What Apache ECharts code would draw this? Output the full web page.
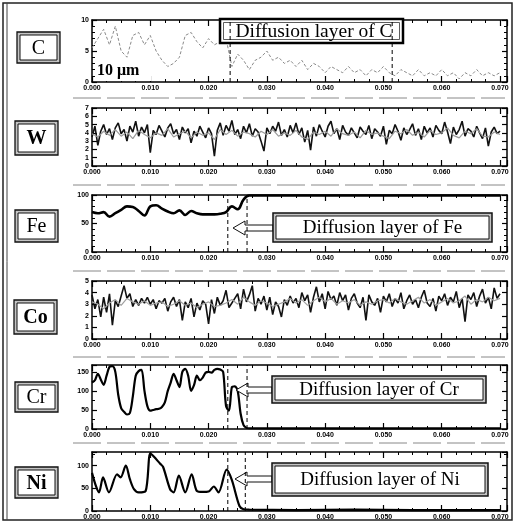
<!DOCTYPE html>
<html><head><meta charset="utf-8">
<script src="https://cdn.jsdelivr.net/npm/echarts@6/dist/echarts.min.js"></script>
<style>html,body{margin:0;padding:0;background:#fff}#c{width:515px;height:523px}</style>
</head><body><div id="c"></div>
<script>
// ---------- data ----------
const elementNames = ['C', 'W', 'Fe', 'Co', 'Cr', 'Ni'];
const layerTitles = ['Diffusion layer of C', 'Diffusion layer of Fe', 'Diffusion layer of Cr', 'Diffusion layer of Ni'];
const scaleText = '10 \u03bcm';
const xMax = 0.0712;
const xInterval = 0.01;
const yMaxes = [10, 7, 100, 5, 168, 130];
const yIntervals = [5, 1, 50, 1, 50, 50];
const stepC = 0.001, stepFine = 0.0005, stepCoarse = 0.001;

const cVals = [5.5,7,8.5,6,9,5,4,7.5,8,6, 7.5,5,3.5,2.5,3,4,7.5,8,6.5,5.5, 7,6,6.5,7,2.5,4.5,3.5,2,3.5,4,
  5,3.5,4,3,3.5,2.5,3.5,2,3,2.5, 1.5,2.5,2,1.5,2.5,1.5,2,1,2,1.5, 2.5,1.5,1,2,1.5,1,2,1,1.5,1,
  2,1,1.5,0.5,1.5,1,2,1,1.5,1, 1.5];

const wBlack = [3.5,4.8,2.5,4.2,5.0,3.8,4.5,3.2,4.6,5.2, 3.9,4.4,3.0,4.8,4.1,5.4,3.6,4.7,4.0,5.0,
  1.6,4.3,3.8,4.9,4.2,3.5,4.6,5.1,3.9,4.4, 3.2,4.7,4.0,4.5,2.8,4.2,3.6,4.8,4.1,3.4,
  4.6,3.9,1.2,4.3,5.2,3.7,4.9,4.2,5.5,3.8, 4.4,3.3,4.8,4.0,5.1,3.6,4.5,4.1,3.0,1.8,
  4.6,3.9,4.8,4.2,5.3,3.7,4.4,3.5,4.9,4.0, 5.2,3.8,4.6,2.9,4.3,1.9,4.7,3.6,5.0,4.2,
  3.5,4.8,5.4,3.9,4.5,3.2,4.9,4.1,3.7,4.6, 4.0,3.4,4.7,4.2,3.8,4.9,3.3,4.5,4.1,3.6,
  4.8,2.6,4.3,3.9,5.0,4.2,3.1,4.6,3.8,4.4, 5.1,3.7,4.5,3.2,4.8,4.0,4.6,3.5,4.9,4.3,
  3.9,5.3,4.1,2.7,4.7,3.8,4.4,5.4,3.6,4.5, 4.2,3.5,4.8,4.0,3.3,4.6,2.4,4.1,4.7,3.9, 4.2];
const wGray = [3.9,3.5,4.2,3.7,4.4,3.6,4.1,3.3,4.3,3.8, 3.4,4.0,3.7,4.5,3.5,3.9,4.2,3.4,4.1,3.7,
  4.0,3.2,4.4,3.8,4.3,3.6,4.1,3.9,3.5,4.2, 3.8,4.4,3.6,4.0,3.7,4.3,3.5,3.2,4.1,3.8,
  4.2,3.6,4.5,3.9,3.7,4.1,3.4,4.3,3.8,4.0, 3.6,3.3,4.2,3.9,4.4,3.7,4.1,3.5,4.3,3.8,
  4.0,4.6,3.7,3.4,4.2,3.9,4.5,3.6,3.5,4.1, 3.8];

const feProfile = [[0,70],[0.001,68],[0.002,70],[0.003,62],[0.004,68],[0.005,74],[0.006,80],[0.007,79],
  [0.008,72],[0.009,64],[0.010,80],[0.011,82],[0.012,76],[0.013,71],[0.014,68],[0.015,73],[0.016,65],
  [0.017,72],[0.018,68],[0.019,66],[0.020,66],[0.021,66],[0.022,67],[0.023,70],[0.024,80],[0.025,75],
  [0.026,92],[0.027,99],[0.070,99]];

const coBlack = [3.8,2.6,3.4,1.9,3.6,2.3,3.9,1.2,3.3,2.8, 3.7,4.6,3.5,3.9,2.8,3.4,2.9,3.5,3.1,3.6,
  3.0,3.4,2.6,3.3,3.1,3.5,2.4,3.2,3.6,2.8, 3.4,1.6,3.2,2.7,3.5,1.9,3.1,2.5,3.3,3.0,
  1.3,3.4,2.2,3.6,2.9,3.3,4.2,2.7,3.1,3.5, 3.9,2.6,4.3,3.2,3.8,4.6,2.4,3.5,3.0,3.7,
  2.5,3.6,2.1,3.2,2.8,1.9,3.4,2.9,3.7,3.1, 3.5,2.7,4.0,3.3,3.8,2.3,3.6,4.5,3.2,3.9,
  2.6,4.1,3.4,3.7,2.9,4.0,3.3,3.8,2.5,3.5, 3.9,3.1,2.7,3.6,1.6,3.8,3.2,2.9,3.5,2.3,
  3.7,3.2,3.9,2.8,3.5,3.1,4.0,2.6,3.3,3.8, 3.0,3.4,2.7,3.6,4.2,3.1,2.8,3.5,2.4,3.7,
  3.3,3.9,2.9,3.6,3.2,4.1,2.7,3.5,1.5,3.8, 3.4,4.0,2.8,3.7,4.3,3.1,3.6,2.6,4.4,3.5, 3.9];
const coGray = [3.2,3.0,2.6,3.1,3.4,2.9,3.5,3.2,3.0,3.3, 2.9,3.1,3.2,2.8,3.0,3.3,2.9,3.1,2.7,3.0,
  3.2,2.8,2.9,3.1,3.4,3.0,3.6,3.2,2.9,3.3, 3.1,2.8,3.0,3.2,3.5,3.1,3.4,2.9,3.3,3.6,
  3.2,3.5,3.0,3.3,3.1,3.4,2.9,3.2,3.0,3.3, 3.4,3.1,3.5,3.2,3.0,3.3,3.6,3.1,3.4,2.9,
  3.2,3.5,3.1,3.3,3.7,3.0,3.4,3.2,3.6,3.3, 3.5];

const crProfile = [[0,122],[0.0005,128],[0.001,145],[0.0015,130],[0.002,116],[0.0025,140],[0.003,163],
  [0.0035,165],[0.004,150],[0.0045,90],[0.005,55],[0.0055,45],[0.006,38],[0.0065,42],[0.007,85],
  [0.0075,140],[0.008,152],[0.0085,155],[0.009,100],[0.0095,60],[0.010,48],[0.0105,50],[0.011,52],
  [0.0115,53],[0.012,58],[0.0125,70],[0.013,100],[0.0135,122],[0.014,145],[0.0145,128],[0.015,110],
  [0.0155,150],[0.016,158],[0.0165,140],[0.017,100],[0.0175,115],[0.018,140],[0.0185,128],[0.019,135],
  [0.0195,148],[0.020,150],[0.0205,148],[0.021,155],[0.0215,158],[0.022,156],[0.0225,150],[0.023,60],
  [0.0235,48],[0.024,110],[0.0245,112],[0.025,100],[0.0255,40],[0.026,10],[0.0265,3],[0.027,2],
  [0.035,1.5],[0.045,2],[0.055,1.5],[0.070,2]];

const niProfile = [[0,84],[0.0007,54],[0.0012,41],[0.0019,74],[0.0029,41],[0.0043,81],[0.0049,74],
  [0.0058,100],[0.0065,70],[0.0072,48],[0.008,41],[0.0092,44],[0.0100,127],[0.0106,120],[0.0117,104],
  [0.0122,97],[0.0134,48],[0.014,41],[0.0149,78],[0.016,41],[0.0171,81],[0.018,44],[0.019,42],
  [0.020,43],[0.0209,54],[0.0217,41],[0.0231,91],[0.024,68],[0.0253,11],[0.026,4],[0.027,3],
  [0.035,2],[0.045,3],[0.055,2],[0.070,2]];

const layerLinesC = [0.0237, 0.0515];
const layerLinesFe = [0.0233, 0.0266];
const layerLinesCr = [0.0233, 0.0266];
const layerLinesNi = [0.0233, 0.0263];

// ---------- layout ----------
const gridLayout = [
  {top: 20, height: 62}, {top: 108, height: 58}, {top: 195, height: 57},
  {top: 281, height: 58}, {top: 365, height: 64}, {top: 452, height: 59}
];
const minorY = [5, 0, 5, 0, 2, 2];
const gridLeft = 92, gridWidth = 415;

const toPairs = (arr, step) => arr.map((v, i) => [+(i * step).toFixed(4), v]);

const grids = [], xAxes = [], yAxes = [], series = [];
const tickFont = {fontSize: 7, fontWeight: 'bold', fontFamily: 'Liberation Sans', color: '#000'};
gridLayout.forEach((g, i) => {
  grids.push({left: gridLeft, top: g.top, width: gridWidth, height: g.height, show: false, outerBoundsMode: 'none', containLabel: false});
  const xBase = {
    type: 'value', gridIndex: i, min: 0, max: xMax, interval: xInterval,
    axisLine: {show: true, onZero: false, lineStyle: {color: '#000', width: 1.5}},
    axisTick: {show: true, inside: true, length: 6, lineStyle: {color: '#000', width: 1.2}},
    minorTick: {show: true, splitNumber: 4, length: 3, lineStyle: {color: '#000', width: 1}},
    splitLine: {show: false}, minorSplitLine: {show: false}
  };
  xAxes.push(Object.assign({}, xBase, {position: 'bottom',
    axisLabel: Object.assign({show: true, margin: 3, formatter: v => (v > 0.0705 ? '' : v.toFixed(3))}, tickFont)}));
  xAxes.push(Object.assign({}, xBase, {position: 'top', axisLabel: {show: false}}));
  const yMax = yMaxes[i], yInt = yIntervals[i];
  const yBase = {
    type: 'value', gridIndex: i, min: 0, max: yMax, interval: yInt,
    axisLine: {show: true, onZero: false, lineStyle: {color: '#000', width: 1.5}},
    axisTick: {show: true, inside: true, length: 5, lineStyle: {color: '#000', width: 1.2}},
    minorTick: {show: minorY[i] > 0, splitNumber: minorY[i] || 2, length: 3, lineStyle: {color: '#000', width: 1}},
    splitLine: {show: false}, minorSplitLine: {show: false}
  };
  yAxes.push(Object.assign({}, yBase, {position: 'left',
    axisLabel: Object.assign({show: true, margin: 3,
      formatter: v => (Math.abs(v / yInt - Math.round(v / yInt)) < 1e-6 ? String(v) : '')}, tickFont)}));
  yAxes.push(Object.assign({}, yBase, {position: 'right', axisLabel: {show: false}}));
});

function addLine(gi, data, style, extra) {
  series.push(Object.assign({type: 'line', xAxisIndex: 2 * gi, yAxisIndex: 2 * gi, data: data,
    showSymbol: false, symbol: 'none', lineStyle: style, silent: true, z: 2}, extra || {}));
}
function addLayerLines(gi, xs) {
  xs.forEach(x => addLine(gi, [[x, 0], [x, yMaxes[gi]]], {color: '#000', width: 1, type: [4, 3]}, {z: 6}));
}

addLine(0, toPairs(cVals, stepC), {color: '#8a8a8a', width: 1, type: [3, 2]});
addLayerLines(0, layerLinesC);
addLine(1, toPairs(wBlack, stepFine), {color: '#111', width: 1.6});
addLine(1, toPairs(wGray, stepCoarse), {color: '#9a9a9a', width: 1.2});
addLine(2, feProfile, {color: '#000', width: 2.6}, {smooth: 0.4});
addLayerLines(2, layerLinesFe);
addLine(3, toPairs(coBlack, stepFine), {color: '#111', width: 1.6});
addLine(3, toPairs(coGray, stepCoarse), {color: '#a0a0a0', width: 1.2});
addLine(4, crProfile, {color: '#000', width: 2.2}, {smooth: 0.3});
addLayerLines(4, layerLinesCr);
addLine(5, niProfile, {color: '#000', width: 2.2}, {smooth: 0.3});
addLayerLines(5, layerLinesNi);

// ---------- graphics ----------
const graphic = [];
graphic.push({type: 'rect', shape: {x: 3, y: 3, width: 509, height: 517}, style: {fill: 'none', stroke: '#222', lineWidth: 1.5}, z: 1});
graphic.push({type: 'line', shape: {x1: 7, y1: 3, x2: 7, y2: 520}, style: {stroke: '#444', lineWidth: 1}, z: 1});
[98, 185, 271, 357, 443].forEach(y => graphic.push({type: 'line', shape: {x1: 73, y1: y, x2: 505, y2: y},
  style: {stroke: '#888', lineWidth: 1, lineDash: [28, 6]}, z: 1}));

function txt(t, x, y, size, bold, extraZ) {
  return {type: 'text', z: extraZ || 4, style: {text: t, x: x, y: y,
    font: (bold ? 'bold ' : '') + size + 'px "Liberation Serif"', fill: '#000',
    align: 'center', textAlign: 'center', verticalAlign: 'middle', textVerticalAlign: 'middle'}};
}
function doubleBox(x, y, w, h, outerW) {
  return [
    {type: 'rect', z: 3, shape: {x: x, y: y, width: w, height: h}, style: {fill: '#c4c4c4', stroke: '#111', lineWidth: outerW}},
    {type: 'rect', z: 3, shape: {x: x + 3, y: y + 3, width: w - 6, height: h - 6}, style: {fill: '#fff', stroke: '#111', lineWidth: 1}}
  ];
}

const labelBoxes = [
  {x: 17, y: 32, w: 43, h: 31, bold: false}, {x: 15, y: 121, w: 43, h: 34, bold: true},
  {x: 15, y: 210, w: 43, h: 32, bold: false}, {x: 14, y: 300, w: 43, h: 34, bold: true},
  {x: 15, y: 382, w: 43, h: 30, bold: false}, {x: 15, y: 467, w: 43, h: 31, bold: true}
];
labelBoxes.forEach((b, i) => {
  doubleBox(b.x, b.y, b.w, b.h, 1.3).forEach(e => graphic.push(e));
  graphic.push(txt(elementNames[i], b.x + b.w / 2, b.y + b.h / 2 + 1, 20, b.bold));
});

// C annotation box (heavy border)
graphic.push({type: 'rect', z: 3, shape: {x: 220, y: 19, width: 183, height: 24}, style: {fill: '#fff', stroke: '#000', lineWidth: 2.5}});
graphic.push({type: 'rect', z: 3, shape: {x: 223.5, y: 22.5, width: 176, height: 17}, style: {fill: '#fff', stroke: '#333', lineWidth: 0.8}});
graphic.push(txt(layerTitles[0], 314, 32, 19.5, false));

const annBoxes = [
  {x: 273, y: 213, w: 219, h: 29, ay: 228, tip: 233},
  {x: 272, y: 376, w: 214, h: 27, ay: 390, tip: 236},
  {x: 272, y: 463, w: 216, h: 33, ay: 479, tip: 235}
];
annBoxes.forEach((b, i) => {
  graphic.push({type: 'polygon', z: 3, shape: {points: [[b.x, b.ay - 3], [b.tip + 12, b.ay - 3], [b.tip + 12, b.ay - 7],
    [b.tip, b.ay], [b.tip + 12, b.ay + 7], [b.tip + 12, b.ay + 3], [b.x, b.ay + 3]]},
    style: {fill: '#fff', stroke: '#111', lineWidth: 1}});
  doubleBox(b.x, b.y, b.w, b.h, 1.5).forEach(e => graphic.push(e));
  graphic.push(txt(layerTitles[i + 1], b.x + b.w / 2, b.y + b.h / 2 + 1, 19, false));
});

// scale bar text in C panel
graphic.push({type: 'rect', z: 3, shape: {x: 95, y: 60, width: 56, height: 21}, style: {fill: '#fff'}});
graphic.push({type: 'text', z: 4, style: {text: scaleText, x: 97, y: 71, font: 'bold 16px "Liberation Serif"', fill: '#000',
  align: 'left', textAlign: 'left', verticalAlign: 'middle', textVerticalAlign: 'middle'}});

const chart = echarts.init(document.getElementById('c'), null, {renderer: 'canvas'});
chart.setOption({animation: false, backgroundColor: '#fff', grid: grids, xAxis: xAxes, yAxis: yAxes, series: series, graphic: graphic});
</script></body></html>
